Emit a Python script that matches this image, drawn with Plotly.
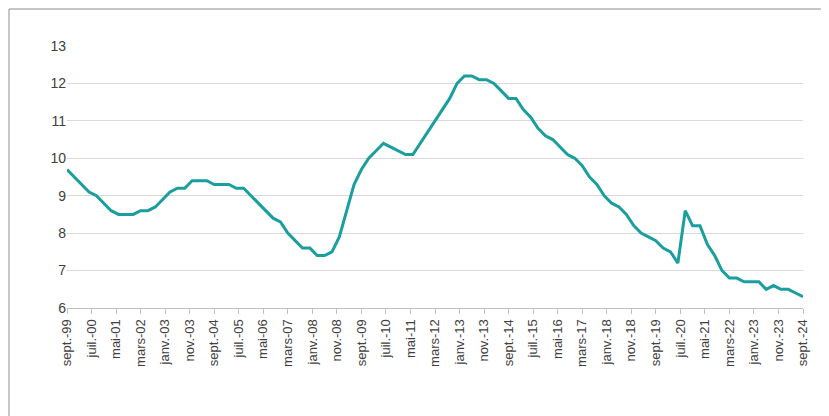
import plotly.graph_objects as go

# Quarterly unemployment rate, sept-99 .. sept-24
values = [9.7, 9.5,
          9.3, 9.1, 9.0, 8.8,
          8.6, 8.5, 8.5, 8.5,
          8.6, 8.6, 8.7, 8.9,
          9.1, 9.2, 9.2, 9.4,
          9.4, 9.4, 9.3, 9.3,
          9.3, 9.2, 9.2, 9.0,
          8.8, 8.6, 8.4, 8.3,
          8.0, 7.8, 7.6, 7.6,
          7.4, 7.4, 7.5, 7.9,
          8.6, 9.3, 9.7, 10.0,
          10.2, 10.4, 10.3, 10.2,
          10.1, 10.1, 10.4, 10.7,
          11.0, 11.3, 11.6, 12.0,
          12.2, 12.2, 12.1, 12.1,
          12.0, 11.8, 11.6, 11.6,
          11.3, 11.1, 10.8, 10.6,
          10.5, 10.3, 10.1, 10.0,
          9.8, 9.5, 9.3, 9.0,
          8.8, 8.7, 8.5, 8.2,
          8.0, 7.9, 7.8, 7.6,
          7.5, 7.2, 8.6, 8.2,
          8.2, 7.7, 7.4, 7.0,
          6.8, 6.8, 6.7, 6.7,
          6.7, 6.5, 6.6, 6.5,
          6.5, 6.4, 6.3]
months_fr = ["janv.", "févr.", "mars", "avr.", "mai", "juin", "juil.", "août",
             "sept.", "oct.", "nov.", "déc."]

x = [3 * i for i in range(len(values))]  # months since sept-99
tickvals = list(range(0, 301, 10))
ticktext = []
for m in tickvals:
    mo = (8 + m) % 12
    yr = (1999 + (8 + m) // 12) % 100
    ticktext.append(f"{months_fr[mo]}-{yr:02d}")

fig = go.Figure(go.Scatter(x=x, y=values, mode="lines", name="Taux de chômage,%",
                           line=dict(color="#1A9E9E", width=3)))
W, H = 829, 416
l, r, t, b = 59, 34, 38, 116
fig.update_layout(
    width=W, height=H, margin=dict(l=l, r=r, t=t, b=b, autoexpand=False),
    paper_bgcolor="white", plot_bgcolor="white",
    font=dict(family="Liberation Sans, Arial", size=13, color="#404040"),
    xaxis=dict(range=[0, 300], tickvals=tickvals, ticktext=ticktext, tickangle=-90,
               showgrid=False, showline=True, linecolor="#BFBFBF", ticks="outside",
               tickcolor="#BFBFBF", ticklen=5, zeroline=False, automargin=False),
    yaxis=dict(range=[6, 13], dtick=1, showgrid=True, gridcolor="#D9D9D9",
               zeroline=False, showline=False, tickfont=dict(size=14), automargin=False),
    showlegend=True,
    legend=dict(orientation="h", x=0.38, xanchor="center", y=-0.74, yanchor="middle",
                font=dict(size=14)),
)
pw, ph = W - l - r, H - t - b
fig.add_shape(type="rect", xref="paper", yref="paper",
              x0=-(l - 1) / pw, x1=1 + (r - 1) / pw, y0=-(b - 1) / ph, y1=1 + (t - 1) / ph,
              line=dict(color="#8C8C8C", width=1))
fig.add_annotation(text="<i>Sources: LBPAM & Bloomberg</i>", xref="paper", yref="paper",
                   x=1.02, y=-0.74, xanchor="right", yanchor="middle", showarrow=False,
                   font=dict(size=14, color="black"))
fig.write_html("out.html")
